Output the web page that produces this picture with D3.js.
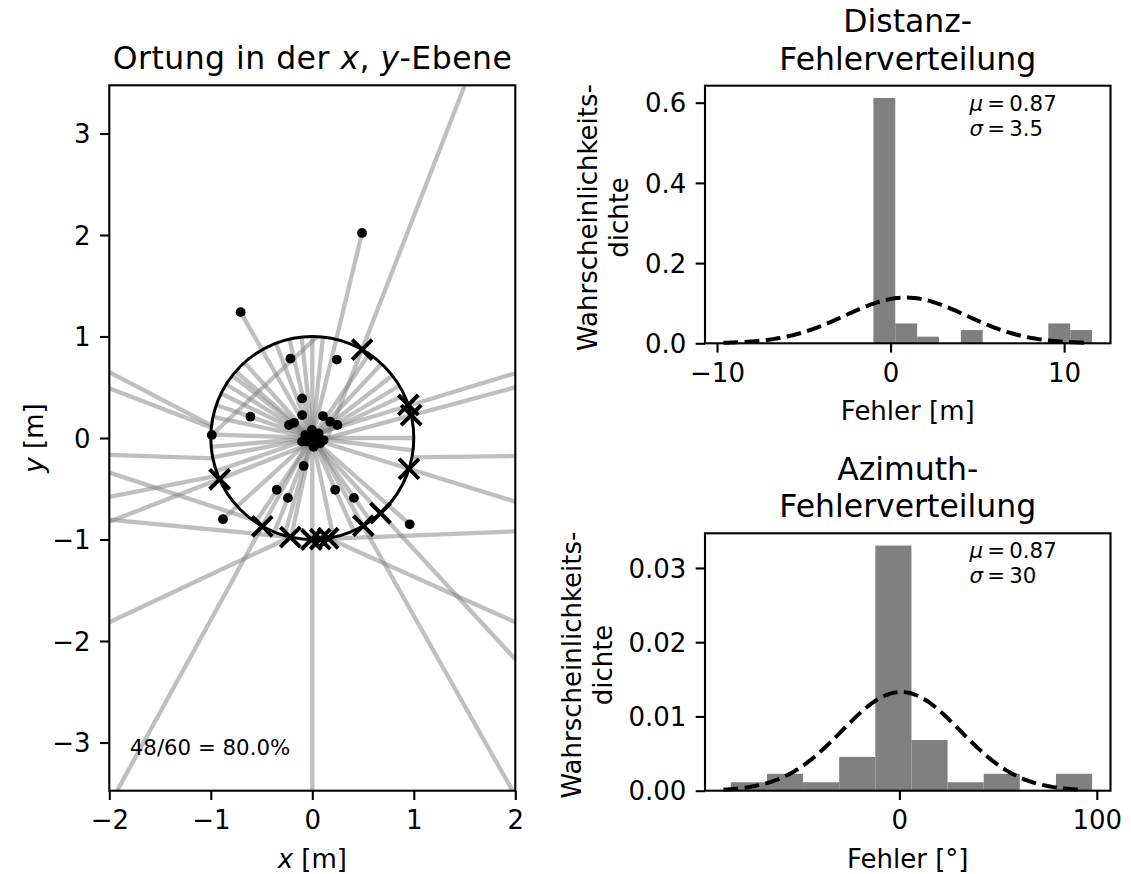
<!DOCTYPE html>
<html>
<head>
<meta charset="utf-8">
<script src="https://cdn.jsdelivr.net/npm/d3@7"></script>
<style>
  body { margin: 0; background: #fff; }
  text { font-family: "DejaVu Sans", sans-serif; fill: #000; }
</style>
</head>
<body>
<svg id="fig" width="1131" height="874"></svg>
<script>
// ---------------- data ----------------
// Localisation trials in the x,y plane (metres).
// Angles (deg) of true source positions on the unit circle whose estimate fell at the array centre.
const fanAngles = [-7, 0, 25, 31, 38, 47, 56, 84, 90, 96, 103, 111, 132, 139, 142, 148, 154,
                   161, 168, 178, 185, 191, 199, 236, 248, 254, 258, 282, 294, 305];
// Remaining trial rays: [x1, y1, x2, y2]
const rays = [
  [0, 0, 0.49, 2.02],
  [0, 0, -0.706, 1.24],
  [0, 0, 0.96, -0.85],
  [0, 0, -0.88, -0.80],
  [0.05, 1.0, -0.99, 0.03],
  [0.15, 0, 1.5, 3.47],
  [0, 0.03, 2, 0.638],
  [0, -0.04, 2, 0.50],
  [0, -0.01, 2, -0.628],
  [0, -0.01, 2, -2.18],
  [0, 0.02, 1.97, -3.47],
  [0, -0.05, 0, -3.47],
  [0, 0.03, -1.92, -3.47],
  [0, -0.05, -2, -0.825],
  [-0.985, 0.12, -2, 0.648],
  [-0.99, 0.10, -2, 0.49],
  [-0.98, -0.2, -2, -0.167],
  [-0.6, -0.8, -2, -0.34],
  [-0.93, -0.37, -2, -0.58],
  [-0.216, -0.976, -2, -0.805],
  [-0.216, -0.976, -2, -1.815],
  [0.078, -0.997, 2, -0.92],
  [0.157, -0.988, 2, -1.815],
  [0.98, -0.19, 2, -0.177]
];
// Successful estimates
const hitX = [-0.069, -0.003, 0.062, 0.111, 0.078, 0.013, -0.052, -0.101, 0.029, -0.020,
              -0.10, -0.10, 0.105, -0.23, -0.18, 0.176, 0.248, -0.61, -0.085,
              -0.216, 0.242, 0.49, -0.706, -0.99, -0.35, -0.24, 0.225, 0.41, 0.96, -0.88];
const hitY = [0.029, 0.079, 0.046, -0.020, -0.052, -0.087, -0.036, -0.036, -0.003, 0.013,
              0.39, 0.226, 0.216, 0.128, 0.15, 0.16, 0.128, 0.21, -0.275,
              0.782, 0.772, 2.02, 1.24, 0.03, -0.51, -0.59, -0.51, -0.59, -0.85, -0.80];
// True positions (angle on unit circle, deg) of failed trials
const missAngle = [60.6, 19, 13, -17.7, -47.8, -59.8, 204, 240.5, 257.5, 269.5, 274.5, 279];
const hitCount = 48, trialCount = 60;

const mapXTicks = [-2, -1, 0, 1, 2];
const mapYTicks = [-3, -2, -1, 0, 1, 2, 3];

// Distance error histogram
const distEdges = [-0.99, 0.27, 1.53, 2.79, 4.05, 5.31, 6.57, 7.83, 9.09, 10.35, 11.61];
const distCounts = [37, 3, 1, 0, 2, 0, 0, 0, 3, 2];
const distMu = 0.87, distSigma = 3.5;
const distXTicks = [-10, 0, 10];
const distYTicks = [0, 0.2, 0.4, 0.6];

// Azimuth error histogram
const aziEdges = [-85.4, -67.1, -48.8, -30.5, -12.2, 6.1, 24.4, 42.7, 61.0, 79.3, 97.6];
const aziCounts = [1, 2, 1, 4, 29, 6, 1, 2, 0, 2];
const aziMu = 0.87, aziSigma = 30;
const aziXTicks = [0, 100];
const aziYTicks = [0, 0.01, 0.02, 0.03];

// ---------------- drawing ----------------
const svg = d3.select("#fig");
const TICK = 9.33, LAB = 26, TITLE = 31.5, SMALL = 21.3;

function frame(g, w, h) {
  g.append("rect").attr("width", w).attr("height", h)
    .attr("fill", "none").attr("stroke", "#000").attr("stroke-width", 2.1);
}
function axes(g, xs, ys, h, xt, yt, xf, yf) {
  const ax = g.append("g").attr("transform", `translate(0,${h})`)
    .call(d3.axisBottom(xs).tickValues(xt).tickFormat(xf).tickSize(TICK).tickPadding(10.7));
  const ay = g.append("g")
    .call(d3.axisLeft(ys).tickValues(yt).tickFormat(yf).tickSize(TICK).tickPadding(9.33));
  [ax, ay].forEach(a => {
    a.select(".domain").remove();
    a.selectAll("line").attr("stroke", "#000").attr("stroke-width", 2.1);
    a.selectAll("text").attr("font-size", LAB).attr("font-family", "DejaVu Sans").attr("fill", "#000");
  });
  ay.selectAll("text").attr("dy", "0.35em");
}

// ----- left: map -----
const M = {x0: 109.3, x1: 515.3, y0: 85.3, y1: 790.7};
const mw = M.x1 - M.x0, mh = M.y1 - M.y0;
const half = mh / mw * 2;
const mx = d3.scaleLinear().domain([-2, 2]).range([0, mw]);
const my = d3.scaleLinear().domain([-half, half]).range([mh, 0]);
const gm = svg.append("g").attr("transform", `translate(${M.x0},${M.y0})`);
svg.append("defs").append("clipPath").attr("id", "mapclip")
  .append("rect").attr("width", mw).attr("height", mh);
const plot = gm.append("g").attr("clip-path", "url(#mapclip)");

const rad = a => a * Math.PI / 180;
const allRays = fanAngles.map(a => [0, 0, Math.cos(rad(a)), Math.sin(rad(a))]).concat(rays);
plot.selectAll("line.ray").data(allRays).join("line").attr("class", "ray")
  .attr("x1", d => mx(d[0])).attr("y1", d => my(d[1]))
  .attr("x2", d => mx(d[2])).attr("y2", d => my(d[3]))
  .attr("stroke", "#808080").attr("stroke-opacity", 0.5).attr("stroke-width", 4.3);

plot.append("circle").attr("cx", mx(0)).attr("cy", my(0)).attr("r", mx(1) - mx(0))
  .attr("fill", "none").attr("stroke", "#000").attr("stroke-width", 3);

plot.selectAll("circle.hit").data(hitX).join("circle").attr("class", "hit")
  .attr("cx", d => mx(d)).attr("cy", (d, i) => my(hitY[i])).attr("r", 4.9).attr("fill", "#000");

const xSym = d3.symbol(d3.symbolX, 262);
plot.selectAll("path.miss").data(missAngle).join("path").attr("class", "miss")
  .attr("transform", a => `translate(${mx(Math.cos(rad(a)))},${my(Math.sin(rad(a)))})`)
  .attr("d", xSym).attr("fill", "none").attr("stroke", "#000").attr("stroke-width", 4);

axes(gm, mx, my, mh, mapXTicks, mapYTicks, d3.format("d"), d3.format("d"));
frame(gm, mw, mh);

gm.append("text").attr("x", 20.5).attr("y", mh - 35.5).attr("font-size", SMALL)
  .text(`${hitCount}/${trialCount} = ${(hitCount / trialCount * 100).toFixed(1)}%`);

const t1 = gm.append("text").attr("x", mw / 2).attr("y", -16).attr("text-anchor", "middle")
  .attr("font-size", TITLE).attr("textLength", 399).attr("lengthAdjust", "spacing");
t1.append("tspan").text("Ortung in der ");
t1.append("tspan").attr("font-style", "italic").text("x");
t1.append("tspan").text(", ");
t1.append("tspan").attr("font-style", "italic").text("y");
t1.append("tspan").text("-Ebene");

const xl = gm.append("text").attr("x", mw / 2).attr("y", mh + 77).attr("text-anchor", "middle").attr("font-size", LAB);
xl.append("tspan").attr("font-style", "italic").text("x");
xl.append("tspan").text(" [m]");
const yl = gm.append("text").attr("text-anchor", "middle").attr("font-size", LAB)
  .attr("transform", `translate(${43 - M.x0},${mh / 2}) rotate(-90)`);
yl.append("tspan").attr("font-style", "italic").text("y");
yl.append("tspan").text(" [m]");

// ----- right: histograms -----
function histogram(box, edges, counts, mu, sigma, xt, yt, yf, titleTop, xlabel, sigmaTxt, labBase) {
  const w = box.x1 - box.x0, h = box.y1 - box.y0;
  const n = d3.sum(counts);
  const bins = counts.map((c, i) => ({x0: edges[i], x1: edges[i + 1], d: c / (n * (edges[i + 1] - edges[i]))}));
  const lo = Math.min(mu - 3 * sigma, edges[0]), hi = Math.max(mu + 3 * sigma, edges[edges.length - 1]);
  const pad = (hi - lo) * 0.05;
  const xs = d3.scaleLinear().domain([lo - pad, hi + pad]).range([0, w]);
  const ys = d3.scaleLinear().domain([0, d3.max(bins, b => b.d) * 1.05]).range([h, 0]);
  const g = svg.append("g").attr("transform", `translate(${box.x0},${box.y0})`);

  g.selectAll("rect.bar").data(bins.filter(b => b.d > 0)).join("rect").attr("class", "bar")
    .attr("x", b => xs(b.x0)).attr("width", b => xs(b.x1) - xs(b.x0))
    .attr("y", b => ys(b.d)).attr("height", b => h - ys(b.d)).attr("fill", "#808080");

  const pdf = x => Math.exp(-0.5 * ((x - mu) / sigma) ** 2) / (sigma * Math.sqrt(2 * Math.PI));
  const xsPts = d3.range(0, 201).map(i => mu - 3 * sigma + i * 6 * sigma / 200);
  g.append("path").datum(xsPts)
    .attr("d", d3.line().x(x => xs(x)).y(x => ys(pdf(x))))
    .attr("fill", "none").attr("stroke", "#000").attr("stroke-width", 4)
    .attr("stroke-dasharray", "14.8,6.4");

  axes(g, xs, ys, h, xt, yt, d3.format("d"), yf);
  frame(g, w, h);

  const s1 = g.append("text").attr("x", 0.652 * w).attr("y", 25).attr("font-size", SMALL);
  s1.append("tspan").attr("font-style", "italic").text("\u03bc");
  s1.append("tspan").text("\u2009=\u2009" + mu);
  const s2 = g.append("text").attr("x", 0.652 * w).attr("y", 50).attr("font-size", SMALL);
  s2.append("tspan").attr("font-style", "italic").text("\u03c3");
  s2.append("tspan").text("\u2009=\u2009" + sigmaTxt);

  g.append("text").attr("x", w / 2).attr("y", -16 - 37.8).attr("text-anchor", "middle").attr("font-size", TITLE).text(titleTop);
  g.append("text").attr("x", w / 2).attr("y", -16).attr("text-anchor", "middle").attr("font-size", TITLE).text("Fehlerverteilung");
  g.append("text").attr("x", w / 2).attr("y", h + 77).attr("text-anchor", "middle").attr("font-size", LAB).text(xlabel);

  const cy = h / 2 + 3;
  g.append("text").attr("text-anchor", "middle").attr("font-size", LAB)
    .attr("transform", `translate(${labBase - 31 - box.x0},${cy}) rotate(-90)`).text("Wahrscheinlichkeits-");
  g.append("text").attr("text-anchor", "middle").attr("font-size", LAB)
    .attr("transform", `translate(${labBase - box.x0},${cy}) rotate(-90)`).text("dichte");
}

histogram({x0: 705, x1: 1110.5, y0: 85.7, y1: 343.3}, distEdges, distCounts, distMu, distSigma,
  distXTicks, distYTicks, d3.format(".1f"), "Distanz-", "Fehler [m]", "3.5", 628);
histogram({x0: 705, x1: 1110.5, y0: 533.3, y1: 790.7}, aziEdges, aziCounts, aziMu, aziSigma,
  aziXTicks, aziYTicks, d3.format(".2f"), "Azimuth-", "Fehler [°]", "30", 612);
</script>
</body>
</html>
